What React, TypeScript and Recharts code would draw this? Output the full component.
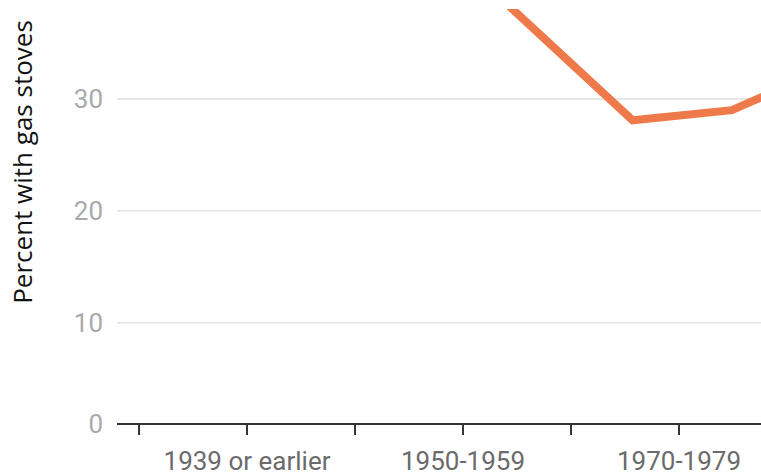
import { LineChart, Line, XAxis, YAxis, CartesianGrid } from 'recharts';

// x positions are in "category steps" from the "1939 or earlier" tick
const xTicks = [-1, 0, 1, 2, 3, 4];
const xTickLabels = ['', '1939 or earlier', '1940-1949', '1950-1959', '1960-1969', '1970-1979'];

const yTicks = [0.94, 10, 20, 30];
const Y_MIN = 0.94;
const Y_MAX = 38.05;

const lineX = [1.69, 3.57, 4.49, 5.41];
const gasStovePct = [44.9, 28.1, 29.0, 32.9];

const data = lineX.map((x, i) => ({ x, pct: gasStovePct[i] }));

const AXIS_DARK = '#333333';
const LINE_COLOR = '#ee7a4c';

function YLabel() {
  return (
    <text
      x={22}
      y={162}
      transform="rotate(-90 22 162)"
      textAnchor="middle"
      dominantBaseline="central"
      fontFamily="'Open Sans', sans-serif"
      fontSize={26}
      fill="#111"
    >
      Percent with gas stoves
    </text>
  );
}

// grid only at the y ticks (no extra line at the top edge)
const gridRows = ({ offset }: any) =>
  yTicks.map((t) => offset.top + (offset.height * (Y_MAX - t)) / (Y_MAX - Y_MIN));

export default function App() {
  return (
    <div style={{ position: 'absolute', left: 0, top: 0, background: '#fff' }}>
      <LineChart width={761} height={476} data={data} margin={{ top: 9, right: 0, left: 0, bottom: 0 }}>
        <CartesianGrid
          horizontal
          vertical={false}
          stroke="#e6e6e6"
          strokeWidth={2}
          horizontalCoordinatesGenerator={gridRows}
        />
        <XAxis
          dataKey="x"
          type="number"
          domain={[-1.204, 4.759]}
          allowDataOverflow
          ticks={xTicks}
          interval={0}
          height={52}
          tickSize={11}
          tickMargin={17}
          axisLine={{ stroke: AXIS_DARK, strokeWidth: 2 }}
          tickLine={{ stroke: AXIS_DARK, strokeWidth: 2 }}
          tick={{ fill: '#6b6b6b', fontSize: 26, fontFamily: 'Roboto, sans-serif' }}
          tickFormatter={(v: number) => {
            const i = xTicks.indexOf(v);
            return i % 2 === 1 ? xTickLabels[i] : '';
          }}
        />
        <YAxis
          type="number"
          domain={[Y_MIN, Y_MAX]}
          allowDataOverflow
          ticks={yTicks}
          interval={0}
          width={117}
          axisLine={false}
          tickLine={false}
          tickMargin={8}
          tick={{ fill: '#aaa', fontSize: 26, fontFamily: 'Roboto, sans-serif' }}
          tickFormatter={(v: number) => (v < 1 ? '0' : String(v))}
          label={<YLabel />}
        />
        <Line
          type="linear"
          dataKey="pct"
          stroke={LINE_COLOR}
          strokeWidth={8}
          dot={false}
          activeDot={false}
          isAnimationActive={false}
        />
      </LineChart>
    </div>
  );
}
